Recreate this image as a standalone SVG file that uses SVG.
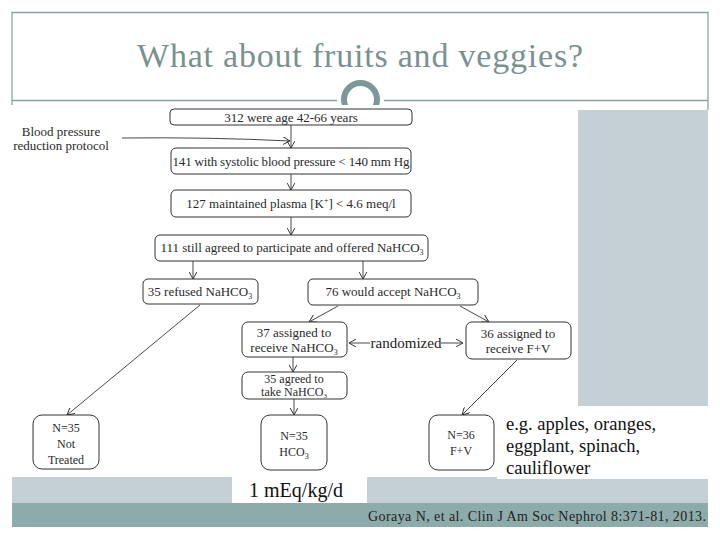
<svg xmlns="http://www.w3.org/2000/svg" width="720" height="540" viewBox="0 0 720 540">
<defs>
<style>
.serif{font-family:"Liberation Serif","DejaVu Serif","Times New Roman",Times,serif}
.frame{stroke:#8da3a3;stroke-width:1.3;fill:none}
.box{fill:#fff;stroke:#333;stroke-width:1}
.t{font-family:"Liberation Serif","DejaVu Serif","Times New Roman",Times,serif;font-size:13px;fill:#2a2a2a;text-anchor:middle}
.ts{font-family:"Liberation Serif","DejaVu Serif","Times New Roman",Times,serif;font-size:12px;fill:#2a2a2a;text-anchor:middle}
.con{stroke:#333;stroke-width:0.9;fill:none;marker-end:url(#arr)}
</style>
<marker id="arr" viewBox="0 0 10 10" refX="9" refY="5" markerWidth="8" markerHeight="8" markerUnits="userSpaceOnUse" orient="auto">
<path d="M0,0 L9,5 L0,10" fill="none" stroke="#333" stroke-width="1.2"/>
</marker>
</defs>
<rect x="0" y="0" width="720" height="540" fill="#fff"/>
<g id="slide-frame">
<path class="frame" d="M12,106 V12.5 H708 V110"/>
<path class="frame" d="M12,100.5 H337 M384,100.5 H708"/>
<circle cx="360.5" cy="99.5" r="16.5" fill="none" stroke="#7d9898" stroke-width="6"/>
</g>
<text id="title" class="serif" x="360" y="67" font-size="34" fill="#7a9191" text-anchor="middle" textLength="446">What about fruits and veggies?</text>
<rect x="0" y="105" width="578" height="372" fill="#fff"/>
<rect x="578" y="110" width="130" height="296" fill="#c5d0d6"/>
<rect x="12" y="477" width="696" height="26" fill="#c5d0d6"/>
<rect x="232" y="477" width="135" height="26" fill="#fff"/>
<rect x="497" y="406" width="211" height="73" fill="#fff"/>
<rect x="12" y="503" width="696" height="24" fill="#8dabab"/>
<text class="serif" x="706" y="521" font-size="14" fill="#222" text-anchor="end" textLength="338">Goraya N, et al. Clin J Am Soc Nephrol 8:371-81, 2013.</text>
<text class="serif" x="296" y="497" font-size="20" fill="#111" text-anchor="middle">1 mEq/kg/d</text>
<g class="serif" font-size="18.5" fill="#111">
<text x="506" y="430">e.g. apples, oranges,</text>
<text x="506" y="452">eggplant, spinach,</text>
<text x="506" y="474">cauliflower</text>
</g>
<g id="bp-label">
<text class="t" x="61" y="136">Blood pressure</text>
<text class="t" x="61" y="150">reduction protocol</text>
</g>
<g id="connectors">
<path class="con" d="M291,125 V148"/>
<path class="con" d="M122,138 Q210,137 290,141"/>
<path class="con" d="M291,174 V190"/>
<path class="con" d="M291,217 V235"/>
<path class="con" d="M193,261 V279"/>
<path class="con" d="M363,261 V279"/>
<path class="con" d="M338,306 L309,322"/>
<path class="con" d="M460,306 L489,322"/>
<path class="con" d="M293,357 V372"/>
<path class="con" d="M200,305 L67,415"/>
<path class="con" d="M294,399 V415"/>
<path class="con" d="M517,360 L462,415"/>
<path class="con" d="M370,343 H349"/>
<path class="con" d="M441,343 H463"/>
</g>
<text class="serif" x="406" y="348" font-size="15" fill="#222" text-anchor="middle">randomized</text>
<g id="n1"><rect class="box" x="170" y="109" width="242" height="16" rx="4"/><text class="t" x="291" y="121.5">312 were age 42-66 years</text></g>
<g id="n2"><rect class="box" x="171" y="148" width="240" height="26" rx="5"/><text class="t" x="291" y="165.5" textLength="237">141 with systolic blood pressure &lt; 140 mm Hg</text></g>
<g id="n3"><rect class="box" x="171" y="190" width="240" height="27" rx="5" stroke-width="1.6"/><text class="t" x="291" y="208">127 maintained plasma [K<tspan font-size="8" dy="-5">+</tspan><tspan dy="5">] &lt; 4.6 meq/l</tspan></text></g>
<g id="n4"><rect class="box" x="155" y="235" width="273" height="26" rx="5"/><text class="t" x="292" y="252">111 still agreed to participate and offered NaHCO<tspan font-size="8" dy="3">3</tspan></text></g>
<g id="n5"><rect class="box" x="143" y="279" width="115" height="25" rx="5"/><text class="t" x="200" y="296">35 refused NaHCO<tspan font-size="8" dy="3">3</tspan></text></g>
<g id="n6"><rect class="box" x="308" y="279" width="170" height="26" rx="5"/><text class="t" x="393" y="296">76 would accept NaHCO<tspan font-size="8" dy="3">3</tspan></text></g>
<g id="n7"><rect class="box" x="242" y="322" width="105" height="35" rx="6"/><text class="t" x="294" y="337">37 assigned to</text><text class="t" x="294" y="352">receive NaHCO<tspan font-size="8" dy="3">3</tspan></text></g>
<g id="n8"><rect class="box" x="466" y="322" width="105" height="37" rx="6"/><text class="t" x="518" y="338">36 assigned to</text><text class="t" x="518" y="353">receive F+V</text></g>
<g id="n9"><rect class="box" x="242" y="372" width="105" height="27" rx="6" stroke="#8a8a8a"/><text class="ts" x="294" y="383">35 agreed to</text><text class="ts" x="294" y="396">take NaHCO<tspan font-size="7" dy="2">3</tspan></text></g>
<g id="n10"><rect class="box" x="33" y="415" width="66" height="54" rx="9"/><text class="ts" x="66" y="432">N=35</text><text class="ts" x="66" y="448">Not</text><text class="ts" x="66" y="464">Treated</text></g>
<g id="n11"><rect class="box" x="261" y="415" width="66" height="55" rx="9"/><text class="ts" x="294" y="440">N=35</text><text class="ts" x="294" y="456">HCO<tspan font-size="8" dy="3">3</tspan></text></g>
<g id="n12"><rect class="box" x="429" y="415" width="65" height="55" rx="9"/><text class="ts" x="461" y="439">N=36</text><text class="ts" x="461" y="455">F+V</text></g>
</svg>
